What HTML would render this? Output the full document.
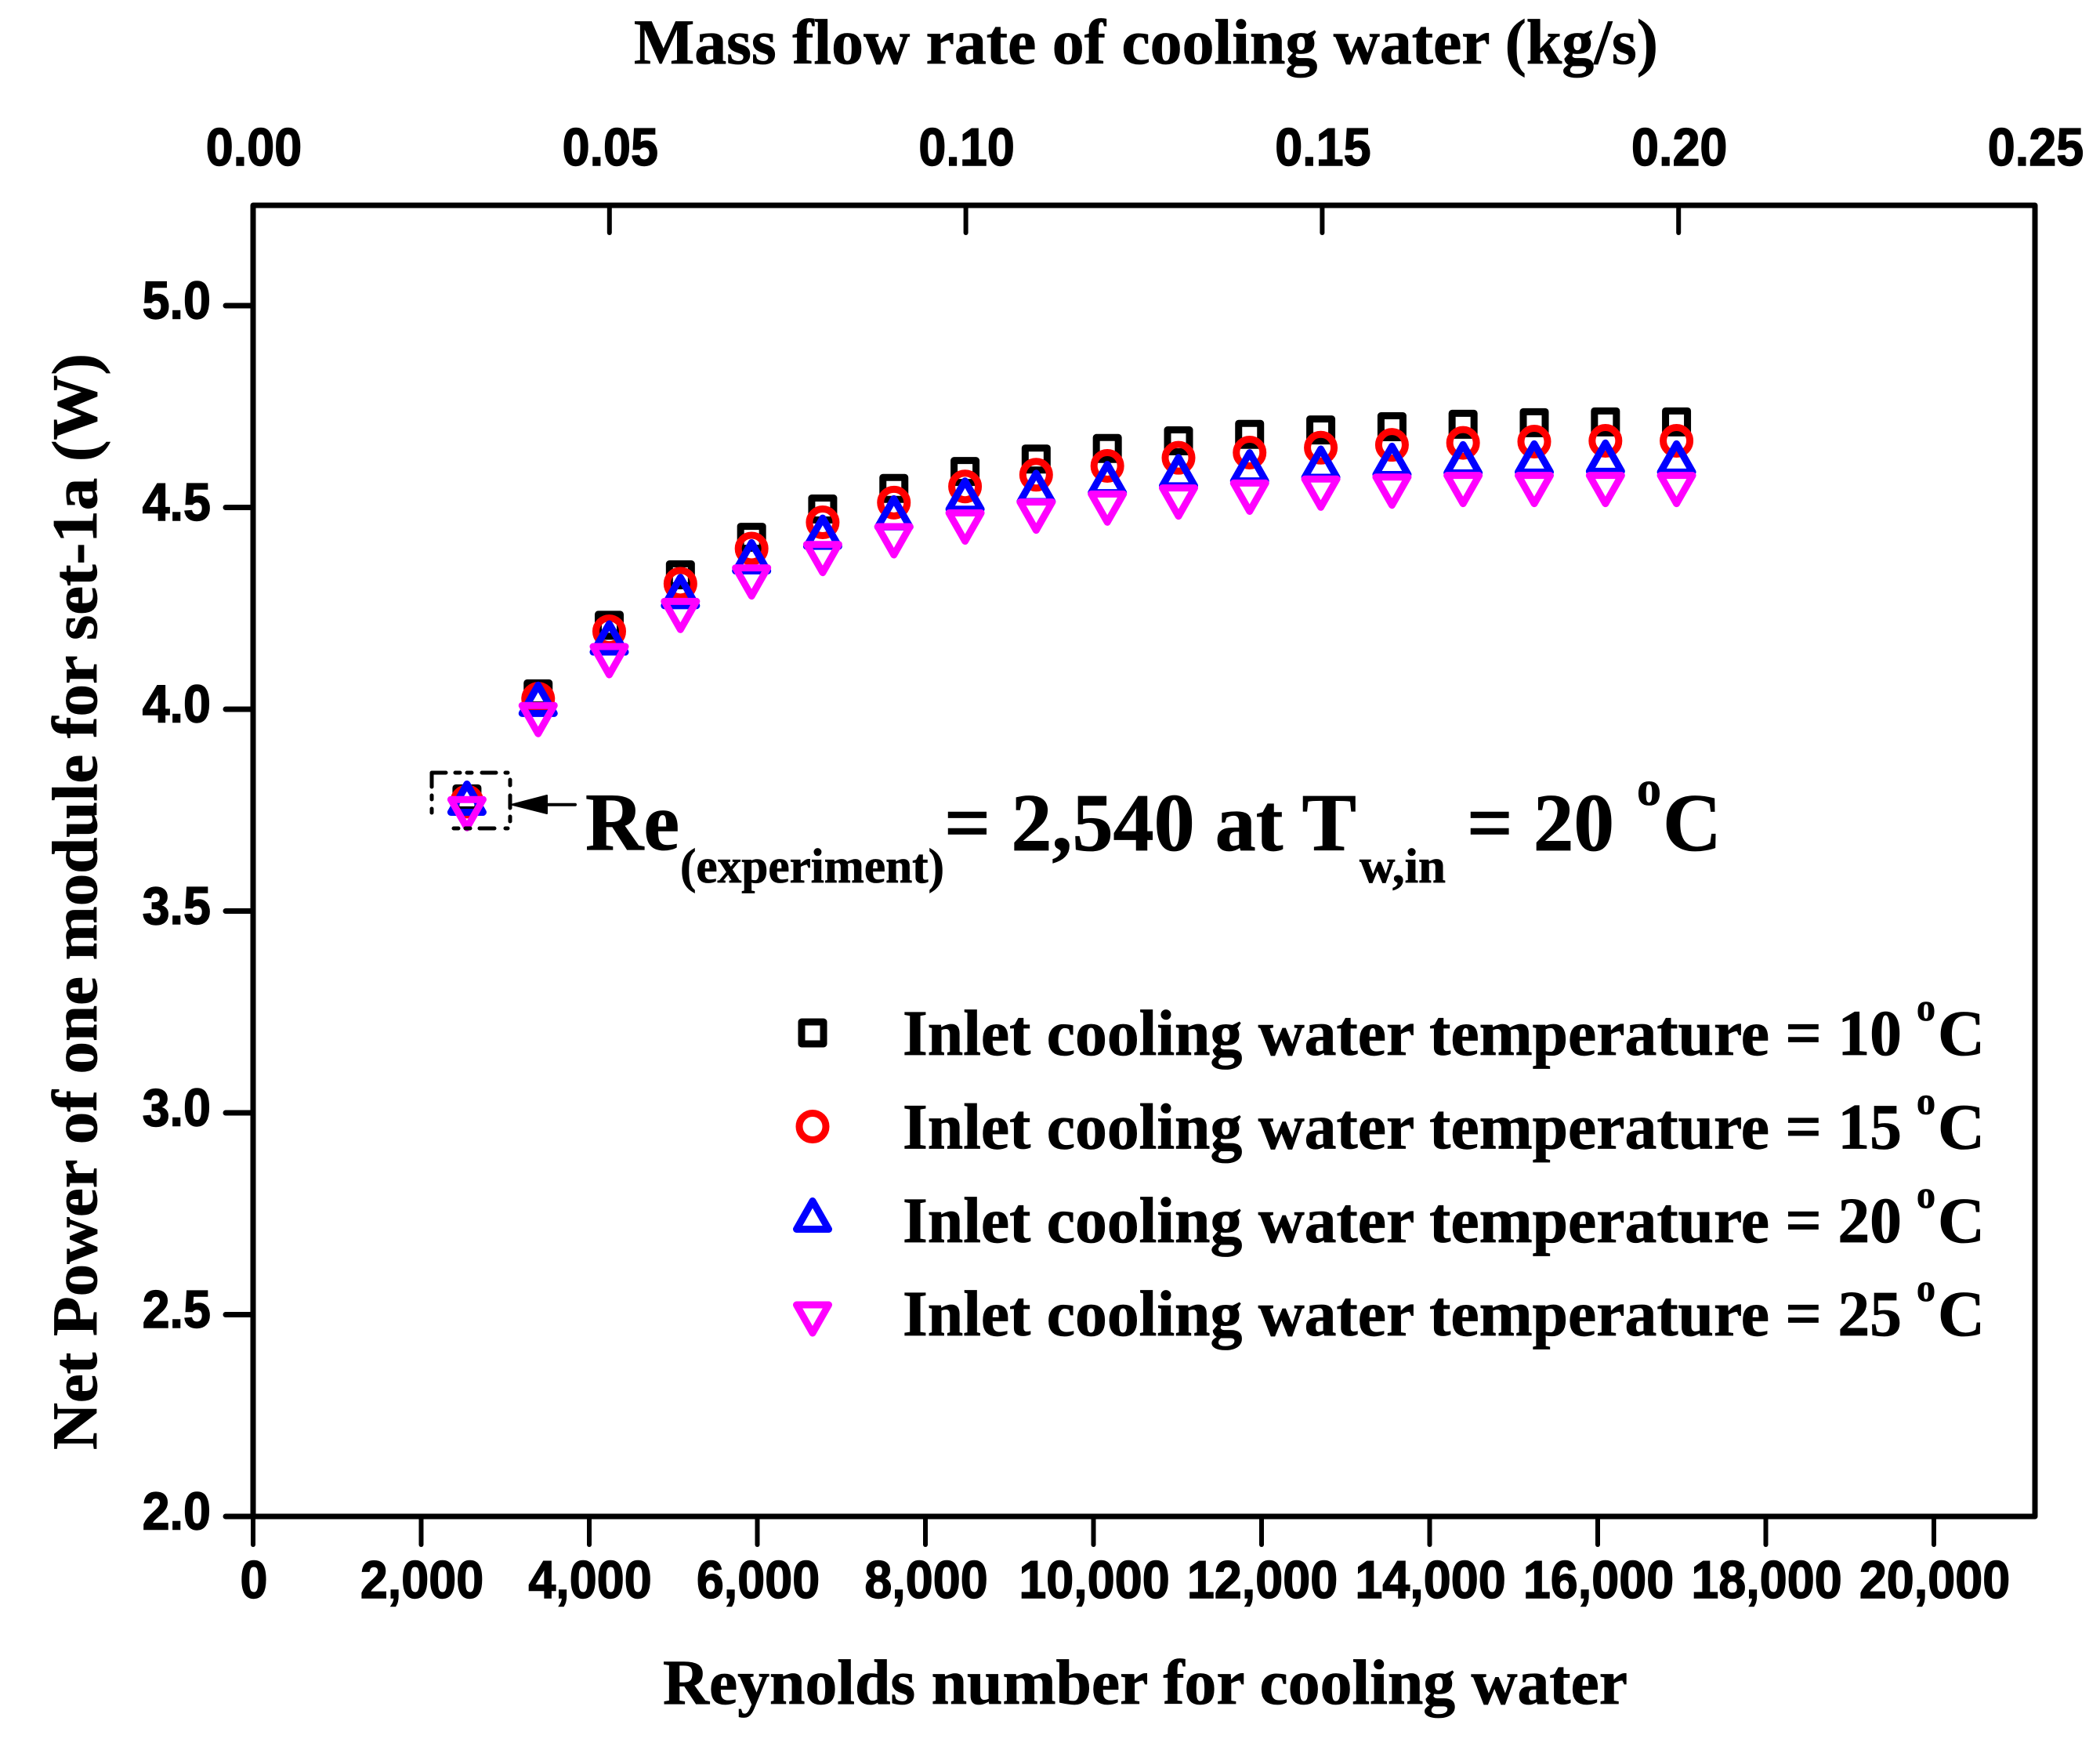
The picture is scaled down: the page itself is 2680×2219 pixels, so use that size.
<!DOCTYPE html>
<html>
<head>
<meta charset="utf-8">
<title>Net power vs Reynolds number</title>
<style>
html,body{margin:0;padding:0;background:#fff;}
svg{display:block;}
.serif{font-family:"Liberation Serif",serif;font-weight:bold;fill:#000;stroke:#000;stroke-width:0.8px;}
.sans{font-family:"Liberation Sans",sans-serif;font-weight:bold;fill:#000;font-size:68px;stroke:#000;stroke-width:1.4px;}
</style>
</head>
<body>
<svg id="chart" xmlns="http://www.w3.org/2000/svg" width="2680" height="2219" viewBox="0 0 2680 2219">
  <rect x="0" y="0" width="2680" height="2219" fill="#fff"/>
  <g id="ticks"></g>
  <rect x="323" y="262" width="2274" height="1673" fill="none" stroke="#000" stroke-width="7" stroke-linejoin="round"/>
  <g id="ticklabels"></g>
  <text class="serif" x="809" y="81" font-size="82" textLength="1307" lengthAdjust="spacingAndGlyphs">Mass flow rate of cooling water (kg/s)</text>
  <text class="serif" x="846" y="2174" font-size="82" textLength="1231" lengthAdjust="spacingAndGlyphs">Reynolds number for cooling water</text>
  <text class="serif" x="123" y="1850" font-size="82" textLength="1399" lengthAdjust="spacingAndGlyphs" transform="rotate(-90 123 1850)">Net Power of one module for set-1a (W)</text>
  <g id="series"></g>
  <path fill="none" stroke="#000" stroke-width="5" stroke-linecap="round" stroke-linejoin="round"
    d="M551 1004V986H569 M581 986H587 M596 986H602 M615 986H633 M645 986H648 M651 995V1002 M651 1015V1031 M651 1042V1048 M645 1057H648 M612 1057H631 M594 1057H600 M579 1057H585 M551 1015V1020 M551 1032V1037"/>
  <g>
    <polygon points="653,1026.7 698,1015 698,1038" fill="#000" stroke="#000" stroke-width="2" stroke-linejoin="round"/>
    <line x1="695" y1="1026.7" x2="734" y2="1026.7" stroke="#000" stroke-width="4" stroke-linecap="round"/>
  </g>
  <g>
    <text class="serif" x="747" y="1084" font-size="105" textLength="120" lengthAdjust="spacingAndGlyphs">Re</text>
    <text class="serif" x="868" y="1126" font-size="62" textLength="337" lengthAdjust="spacingAndGlyphs">(experiment)</text>
    <text class="serif" x="1205" y="1085" font-size="105" textLength="526" lengthAdjust="spacingAndGlyphs">= 2,540 at T</text>
    <text class="serif" x="1735" y="1126" font-size="62" textLength="110" lengthAdjust="spacingAndGlyphs">w,in</text>
    <text class="serif" x="1872" y="1085" font-size="105" textLength="188" lengthAdjust="spacingAndGlyphs">= 20</text>
    <text class="serif" x="2089" y="1027" font-size="62" textLength="31" lengthAdjust="spacingAndGlyphs">o</text>
    <text class="serif" x="2122" y="1085" font-size="105" textLength="75" lengthAdjust="spacingAndGlyphs">C</text>
  </g>
  <g id="legend"></g>
</svg>
<script>
var reynolds = [2540,3387,4233,5080,5927,6773,7620,8467,9313,10160,11007,11853,12700,13547,14393,15240,16087,16933];
var power10 = [3.778,4.038,4.208,4.333,4.426,4.496,4.547,4.589,4.620,4.646,4.665,4.681,4.692,4.700,4.706,4.710,4.712,4.712];
var power15 = [3.771,4.026,4.193,4.311,4.398,4.463,4.512,4.552,4.581,4.603,4.623,4.636,4.648,4.655,4.660,4.663,4.665,4.665];
var power20 = [3.767,4.012,4.164,4.279,4.365,4.426,4.474,4.518,4.537,4.559,4.576,4.588,4.597,4.604,4.608,4.610,4.612,4.610];
var power25 = [3.754,3.987,4.133,4.245,4.328,4.386,4.430,4.464,4.491,4.511,4.526,4.538,4.548,4.553,4.557,4.557,4.557,4.557];
var xTicks = [0,2000,4000,6000,8000,10000,12000,14000,16000,18000,20000];
var xTickLabels = ["0","2,000","4,000","6,000","8,000","10,000","12,000","14,000","16,000","18,000","20,000"];
var topTicks = [0,0.05,0.10,0.15,0.20,0.25];
var topTickLabels = ["0.00","0.05","0.10","0.15","0.20","0.25"];
var yTicks = [2.0,2.5,3.0,3.5,4.0,4.5,5.0];
var yTickLabels = ["2.0","2.5","3.0","3.5","4.0","4.5","5.0"];
var legendLabels = ["Inlet cooling water temperature = 10","Inlet cooling water temperature = 15","Inlet cooling water temperature = 20","Inlet cooling water temperature = 25"];

var NS = "http://www.w3.org/2000/svg";
function sx(re){ return 323 + re * 0.10725; }
function stop(m){ return 323 + m * 9096; }
function sy(v){ return 390 + (5 - v) * 515; }

function make(tag, attrs, parent){
  var el = document.createElementNS(NS, tag);
  for (var k in attrs) el.setAttribute(k, attrs[k]);
  parent.appendChild(el);
  return el;
}

var tickGroup = document.getElementById("ticks");
var labelGroup = document.getElementById("ticklabels");
var XS = 0.925;

xTicks.forEach(function(t, i){
  var x = sx(t);
  var line = make("line", {x1:x, y1:1935, x2:x, y2:1971, stroke:"#000", "stroke-width":6, "stroke-linecap":"round"}, tickGroup);
  
  
  var lab = make("text", {"class":"sans", "text-anchor":"middle", transform:"translate(" + (x + 1) + " 2039) scale(" + XS + " 1)"}, labelGroup);
  lab.textContent = xTickLabels[i];
  
  
});

topTicks.forEach(function(t, i){
  var x = stop(t);
  if (t > 0 && t < 0.25) {
    var line = make("line", {x1:x, y1:262, x2:x, y2:297, stroke:"#000", "stroke-width":6, "stroke-linecap":"round"}, tickGroup);
    
    
  }
  var lab = make("text", {"class":"sans", "text-anchor":"middle", transform:"translate(" + (x + 1) + " 211) scale(" + XS + " 1)"}, labelGroup);
  lab.textContent = topTickLabels[i];
  
  
});

yTicks.forEach(function(t, i){
  var y = sy(t);
  var line = make("line", {x1:288, y1:y, x2:323, y2:y, stroke:"#000", "stroke-width":7, "stroke-linecap":"round"}, tickGroup);
  
  
  var lab = make("text", {"class":"sans", "text-anchor":"end", transform:"translate(269 " + (y + 16.5) + ") scale(" + XS + " 1)"}, labelGroup);
  lab.textContent = yTickLabels[i];
  
  
});

function drawSquare(parent, x, y){
  return make("rect", {x:x - 14, y:y - 14, width:28, height:28, fill:"none", stroke:"#000", "stroke-width":9, "stroke-linejoin":"round"}, parent);
}
function drawCircle(parent, x, y){
  return make("circle", {cx:x, cy:y, r:17, fill:"none", stroke:"#f00", "stroke-width":9}, parent);
}
function drawUp(parent, x, y){
  return make("polygon", {points:(x) + "," + (y - 24.5) + " " + (x + 20.5) + "," + (y + 11.5) + " " + (x - 20.5) + "," + (y + 11.5), fill:"none", stroke:"#00f", "stroke-width":9, "stroke-linejoin":"round"}, parent);
}
function drawDown(parent, x, y){
  return make("polygon", {points:(x) + "," + (y + 24.5) + " " + (x + 20.5) + "," + (y - 11.5) + " " + (x - 20.5) + "," + (y - 11.5), fill:"none", stroke:"#f0f", "stroke-width":9, "stroke-linejoin":"round"}, parent);
}

var seriesGroup = document.getElementById("series");
var g10 = make("g", {}, seriesGroup);


var g15 = make("g", {}, seriesGroup);


var g20 = make("g", {}, seriesGroup);


var g25 = make("g", {}, seriesGroup);



reynolds.forEach(function(re, i){
  var x = sx(re) + 0.5;
  var a = drawSquare(g10, x, sy(power10[i]));
  
  
  var b = drawCircle(g15, x, sy(power15[i]));
  
  
  var c = drawUp(g20, x, sy(power20[i]));
  
  
  var d = drawDown(g25, x, sy(power25[i]));
  
  
});

var legendGroup = document.getElementById("legend");
var legendDraw = [drawSquare, drawCircle, drawUp, drawDown];
legendLabels.forEach(function(label, i){
  var base = 1346 + i * 119.4;
  var cy = 1318 + i * 119.5;
  var entry = make("g", {}, legendGroup);
  
  
  var m = legendDraw[i](entry, 1037, cy);
  
  
  var t = make("text", {"class":"serif", x:1152, y:base, "font-size":83, textLength:1275, lengthAdjust:"spacingAndGlyphs"}, entry);
  t.textContent = label;
  
  
  var o = make("text", {"class":"serif", x:2446, y:base - 44, "font-size":50, textLength:24, lengthAdjust:"spacingAndGlyphs"}, entry);
  o.textContent = "o";
  
  
  var cc = make("text", {"class":"serif", x:2473, y:base, "font-size":83, textLength:60, lengthAdjust:"spacingAndGlyphs"}, entry);
  cc.textContent = "C";
  
  
});
</script>
</body>
</html>
